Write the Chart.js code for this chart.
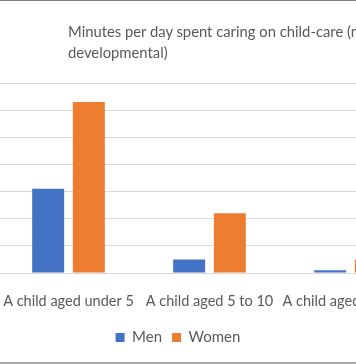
<!DOCTYPE html>
<html>
<head>
<meta charset="utf-8">
<script src="https://cdn.jsdelivr.net/npm/chart.js@4/dist/chart.umd.min.js"></script>
<style>
  html, body { margin: 0; padding: 0; width: 356px; height: 364px; overflow: hidden; background: #fff; }
  #wrap { position: relative; width: 356px; height: 364px; overflow: hidden; }
  #chart { position: absolute; left: -65px; top: 0; }
  #title { position: absolute; left: 68px; top: 21px; font-family: Lato, sans-serif; font-size: 14.8px; line-height: 21px; color: #595959; white-space: nowrap; }
  #topline { position: absolute; left: 0; top: 0; width: 356px; height: 1px; background: #808080; }
  #botline { position: absolute; left: 0; top: 362px; width: 356px; height: 2px; background: #a6a6a6; }
</style>
</head>
<body>
<div id="wrap">
  <canvas id="chart" width="494" height="364"></canvas>
  <div id="title">Minutes per day spent caring on child-care (non-<br>developmental)</div>
  <div id="topline"></div>
  <div id="botline"></div>
</div>
<script>
const categories = ["A child aged under 5", "A child aged 5 to 10", "A child aged 11 to 15"];
const seriesNames = ["Men", "Women"];
const menValues = [31, 5, 1];
const womenValues = [63, 22, 5];
const yTicks = [0, 10, 20, 30, 40, 50, 60, 70];

const textColor = "#595959";
const fontFamily = "Lato, sans-serif";

new Chart(document.getElementById("chart"), {
  type: "bar",
  data: {
    labels: categories,
    datasets: [
      { label: seriesNames[0], data: menValues, backgroundColor: "#4472C4", categoryPercentage: 0.577, barPercentage: 0.786 },
      { label: seriesNames[1], data: womenValues, backgroundColor: "#ED7D31", categoryPercentage: 0.577, barPercentage: 0.786 }
    ]
  },
  options: {
    responsive: false,
    animation: false,
    layout: { padding: { top: 83, right: 8, bottom: 9, left: 0 } },
    plugins: {
      title: { display: false },
      tooltip: { enabled: false },
      legend: {
        position: "bottom",
        labels: {
          boxWidth: 9, boxHeight: 9, padding: 10,
          color: textColor,
          font: { family: fontFamily, size: 15 }
        }
      }
    },
    scales: {
      x: {
        grid: { display: false, drawTicks: false },
        border: { display: false },
        ticks: { color: textColor, font: { family: fontFamily, size: 14.5 }, padding: 20, maxRotation: 0, autoSkip: false },
        afterFit: s => { s.height = 47; s.paddingLeft = 0; s.paddingRight = 0; }
      },
      y: {
        min: yTicks[0],
        max: yTicks[yTicks.length - 1],
        afterBuildTicks: s => { s.ticks = yTicks.map(v => ({ value: v })); },
        grid: { color: "#d9d9d9", lineWidth: 1, drawTicks: false },
        border: { display: false },
        ticks: { display: false },
        afterFit: s => { s.width = 63; s.paddingTop = 0; s.paddingBottom = 0; }
      }
    }
  }
});
</script>
</body>
</html>
